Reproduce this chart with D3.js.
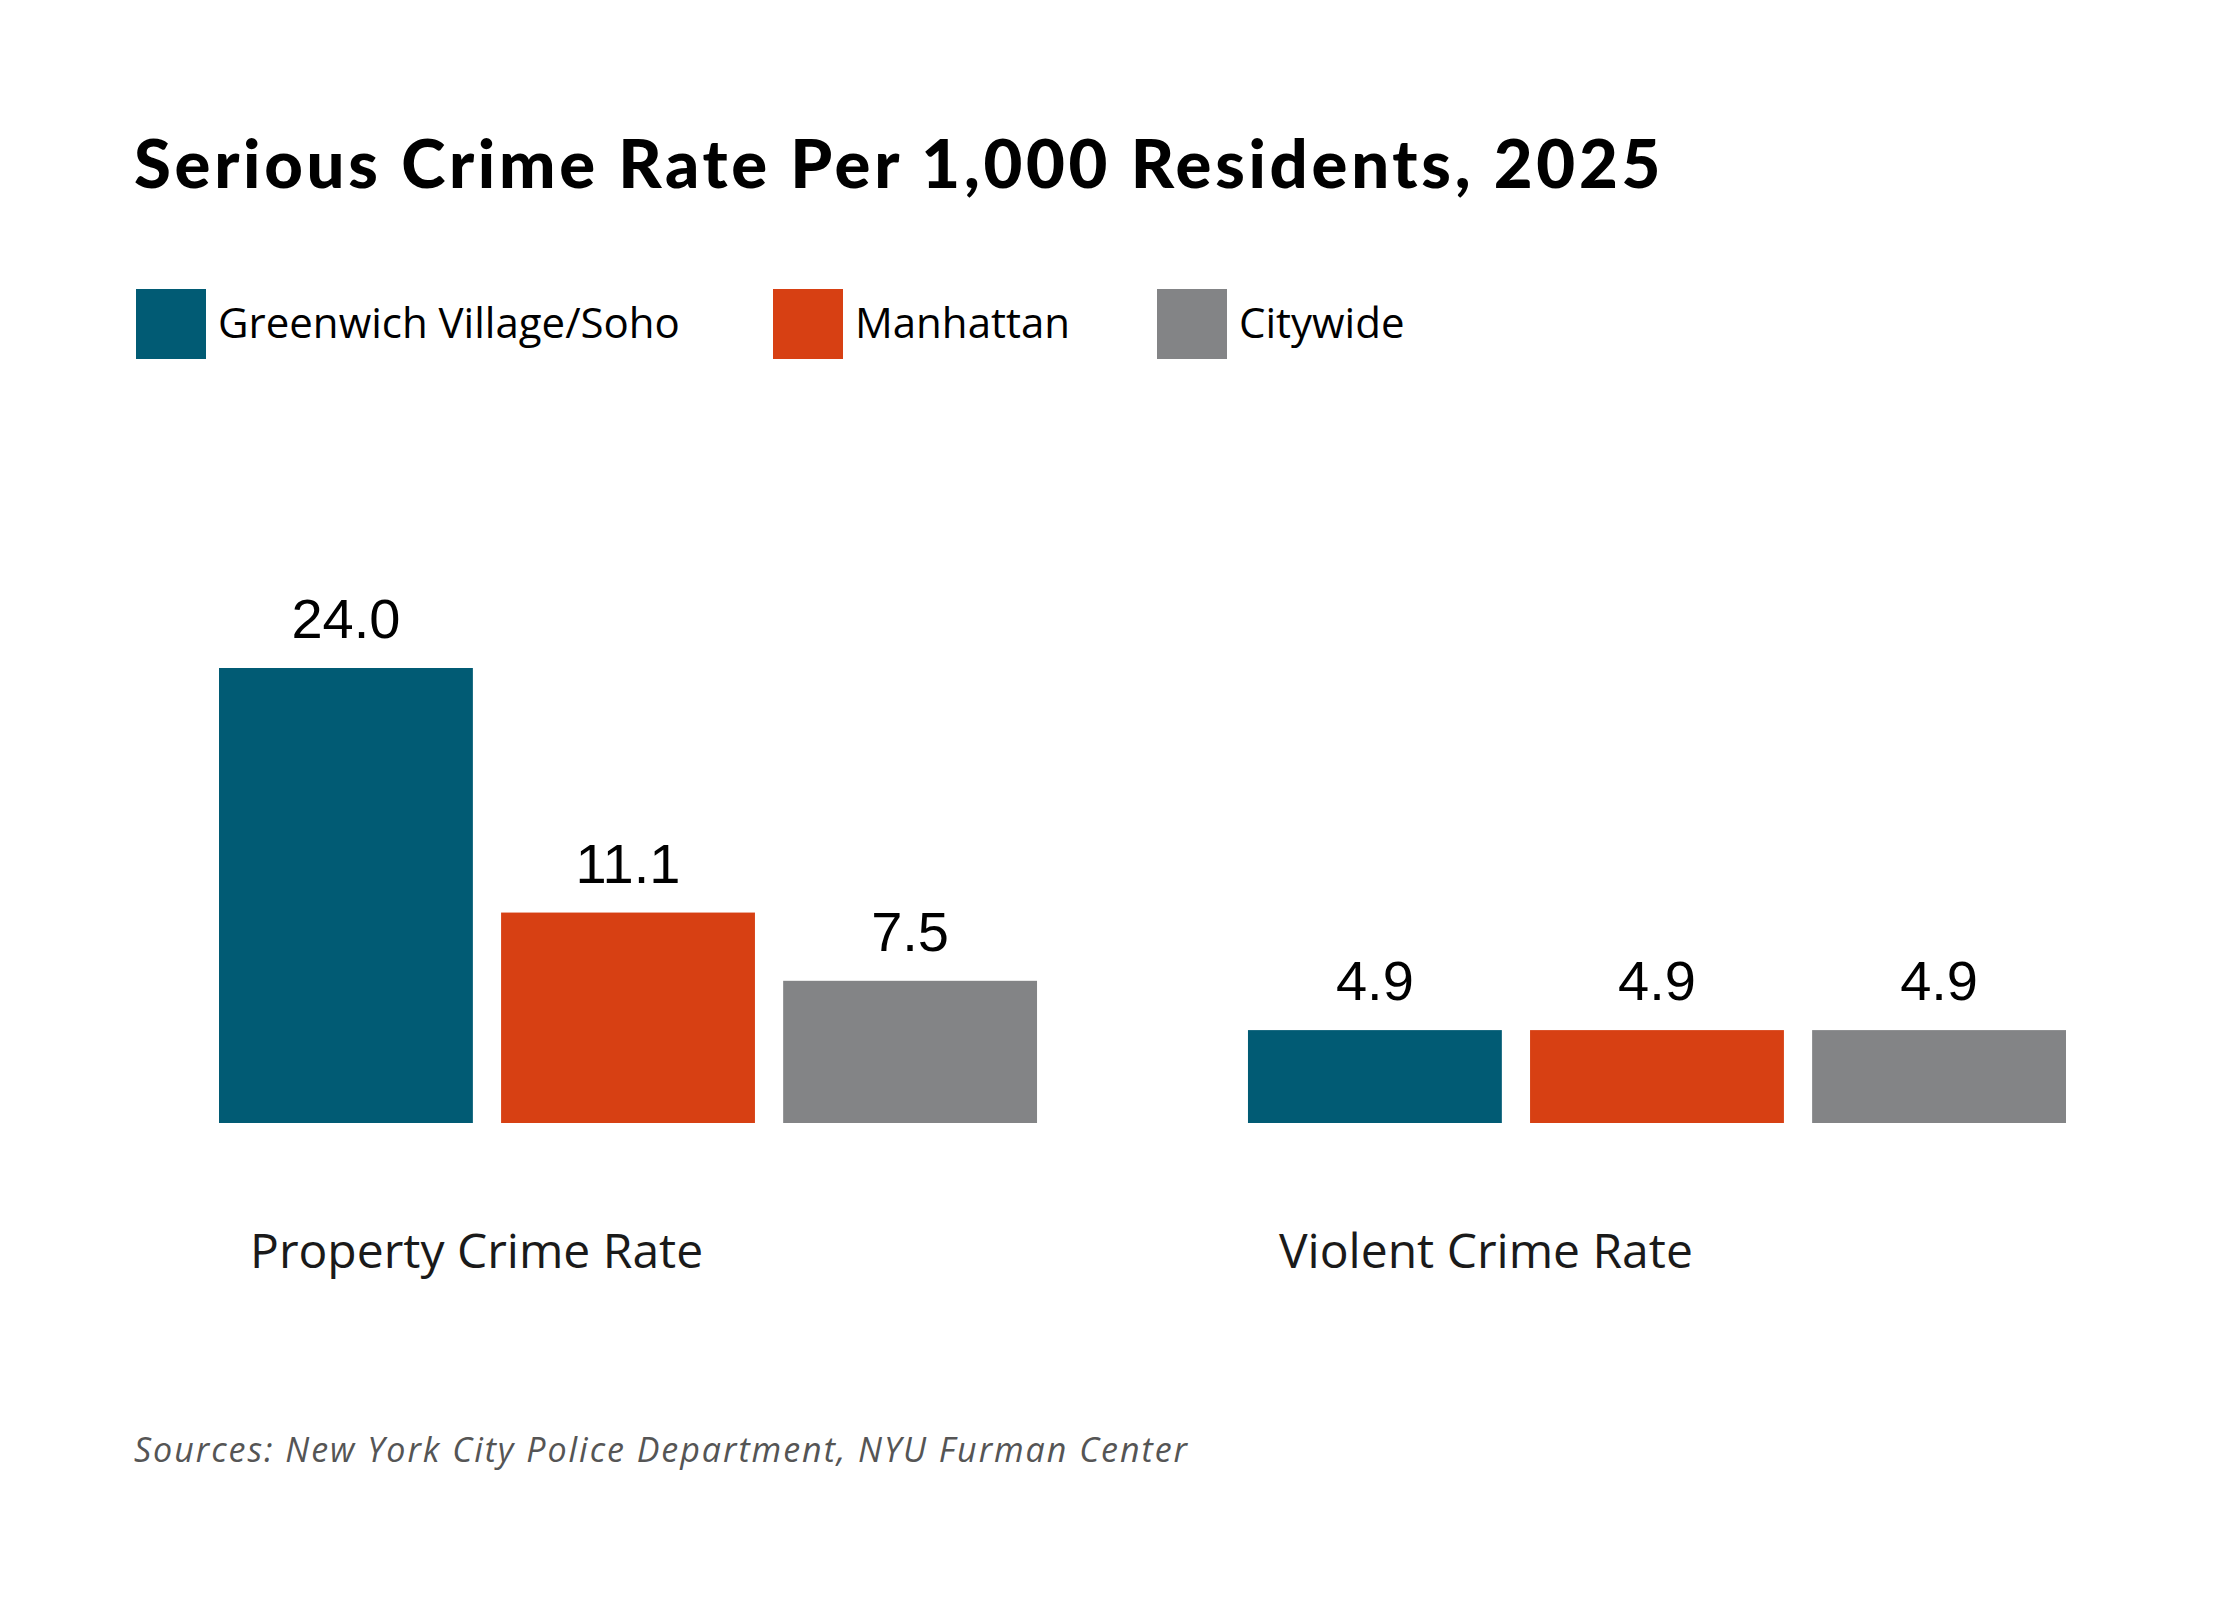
<!DOCTYPE html>
<html>
<head>
<meta charset="utf-8">
<script src="https://cdn.jsdelivr.net/npm/d3@7"></script>
<style>
  html, body { margin: 0; padding: 0; background: #fff; }
  svg { display: block; }
</style>
</head>
<body>
<div id="chart"></div>
<script>
// chart data
const groups = ["Property Crime Rate", "Violent Crime Rate"];
const series = ["Greenwich Village/Soho", "Manhattan", "Citywide"];
const propertyRates = [24.0, 11.1, 7.5];
const violentRates = [4.9, 4.9, 4.9];
const seriesColors = ["#015b74", "#d74013", "#838486"];

const titleText = "Serious Crime Rate Per 1,000 Residents, 2025";
const sourceText = "Sources: New York City Police Department, NYU Furman Center";

const width = 2240, height = 1600;

// rows the bars are drawn from
const rows = groups.map((g, i) => ({
  group: g,
  values: (i === 0 ? propertyRates : violentRates).map((v, j) => ({ key: series[j], value: v }))
}));

/**
 * Spreads the letters of a text so it spans a given width.
 * @param {object} text d3 selection of a single text
 * @param {number} target width in px
 */
const spreadTo = (text, target) => {
  const n = text.text().length;
  const w = text.node().getComputedTextLength();
  if (n > 1 && w < target) {
    text.attr("letter-spacing", (target - w) / n);
  }
}

const svg = d3.select("#chart").append("svg")
  .attr("width", width)
  .attr("height", height)
  .attr("viewBox", [0, 0, width, height]);

svg.append("rect").attr("width", width).attr("height", height).attr("fill", "#fff");

// title
const title = svg.append("text")
  .attr("x", 134)
  .attr("y", 188)
  .attr("font-family", "Lato, 'Open Sans', sans-serif")
  .attr("font-weight", 900)
  .attr("font-size", 67)
  .attr("fill", "#000")
  .text(titleText);
spreadTo(title, 1530);

// legend: swatch then label
const legendX = [136, 773, 1157];
const legend = svg.append("g").attr("class", "legend");
series.forEach((name, i) => {
  legend.append("rect")
    .attr("x", legendX[i])
    .attr("y", 289)
    .attr("width", 70)
    .attr("height", 70)
    .attr("fill", seriesColors[i]);
  legend.append("text")
    .attr("x", legendX[i] + 82)
    .attr("y", 338)
    .attr("font-family", "'Open Sans', sans-serif")
    .attr("font-size", 42)
    .attr("fill", "#000")
    .text(name);
});

// scales
const x0 = d3.scaleBand()
  .domain(groups)
  .range([219, 2066])
  .paddingInner(0.205)
  .paddingOuter(0);

const x1 = d3.scaleBand()
  .domain(series)
  .range([0, x0.bandwidth()])
  .paddingInner(0.1)
  .paddingOuter(0);

const y = d3.scaleLinear()
  .domain([0, 24])
  .range([1123, 668]);

const color = d3.scaleOrdinal().domain(series).range(seriesColors);

const groupSel = svg.append("g").selectAll("g")
  .data(rows)
  .join("g")
  .attr("transform", d => `translate(${x0(d.group)},0)`);

groupSel.selectAll("rect")
  .data(d => d.values)
  .join("rect")
  .attr("x", d => x1(d.key))
  .attr("y", d => y(d.value))
  .attr("width", x1.bandwidth())
  .attr("height", d => y(0) - y(d.value))
  .attr("fill", d => color(d.key));

// value labels above bars
groupSel.selectAll("text.value")
  .data(d => d.values)
  .join("text")
  .attr("class", "value")
  .attr("x", d => x1(d.key) + x1.bandwidth() / 2)
  .attr("y", d => y(d.value) - 30)
  .attr("text-anchor", "middle")
  .attr("font-family", "'Liberation Sans', Arial, sans-serif")
  .attr("font-size", 56)
  .attr("fill", "#000")
  .text(d => d3.format(".1f")(d.value));

// category labels under each group
groupSel.append("text")
  .attr("x", 31)
  .attr("y", 1268)
  .attr("font-family", "'Open Sans', sans-serif")
  .attr("font-size", 48)
  .attr("fill", "#1a1a1a")
  .text(d => d.group);

// source note
const source = svg.append("text")
  .attr("x", 134)
  .attr("y", 1462)
  .attr("font-family", "'Open Sans', sans-serif")
  .attr("font-style", "italic")
  .attr("font-weight", 400)
  .attr("font-size", 34)
  .attr("fill", "#555")
  .text(sourceText);
spreadTo(source, 1055);
</script>
</body>
</html>
